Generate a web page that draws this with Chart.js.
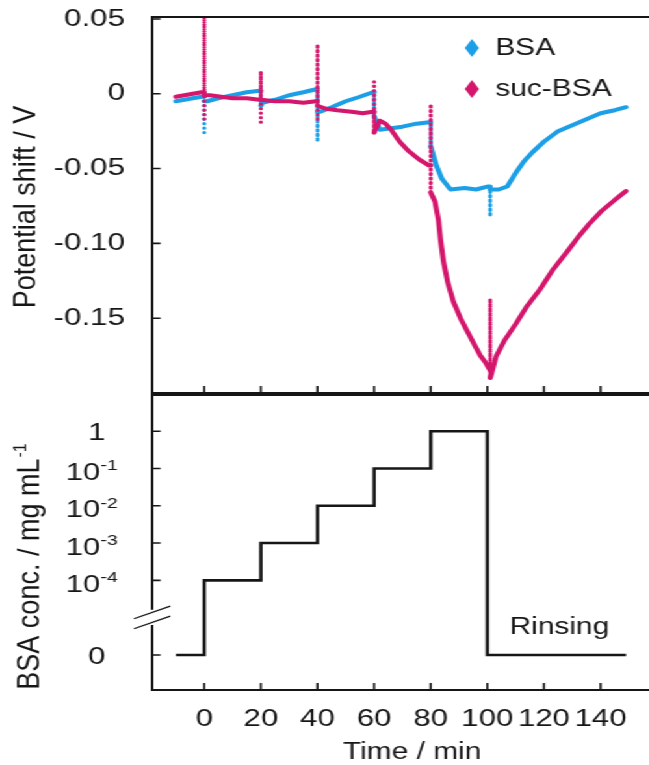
<!DOCTYPE html>
<html>
<head>
<meta charset="utf-8">
<script src="https://cdn.jsdelivr.net/npm/chart.js@4.4.1/dist/chart.umd.min.js"></script>
<style>
  html, body { margin: 0; padding: 0; background: #fff; overflow: hidden; }
  /* the original figure is stretched sideways, so the canvases are too */
  #stage { position: relative; width: 499px; height: 765px; transform: scaleX(1.3); transform-origin: 0 0; }
  #top { position: absolute; left: 0; top: 0; }
  #bottom { position: absolute; left: 0; top: 390px; }
</style>
</head>
<body>
<div id="stage">
  <canvas id="top" width="499" height="400"></canvas>
  <canvas id="bottom" width="499" height="375"></canvas>
</div>
<script>
const FONT = "'Liberation Sans', Arial, Helvetica, sans-serif";
const INK = '#161616';

// x axis (shared)
const timeTicks = [0, 20, 40, 60, 80, 100, 120, 140];

// top panel
const shiftTicks = [0.05, 0, -0.05, -0.10, -0.15];
const shiftTickLabels = ['0.05', '0', '-0.05', '-0.10', '-0.15'];

const bsaTime = [-10, -7, -4, -1, 0, 0, 0, 1, 5, 10, 15, 19.5, 20, 20, 20.5, 25, 30, 35, 39.5, 40, 40, 40, 41, 45, 50, 55, 59.5,
  60, 60, 62, 66, 70, 75, 79.5, 80, 80, 82, 84, 87, 92, 96, 100, 101, 101, 101, 104, 107, 110, 113, 116, 120, 125, 130,
  135, 140, 145, 149];
const bsaShift = [-0.005, -0.004, -0.003, -0.002, -0.002, -0.026, -0.005, -0.005, -0.003, -0.001, 0.001, 0.002, 0.002, -0.008,
  -0.006, -0.004, -0.001, 0.001, 0.003, 0.003, -0.032, -0.012, -0.012, -0.009, -0.005, -0.002, 0.001,
  0.001, -0.015, -0.024, -0.023, -0.022, -0.020, -0.019, -0.019, -0.035, -0.048, -0.057, -0.064, -0.063, -0.064, -0.062,
  -0.062, -0.082, -0.064, -0.064, -0.062, -0.053, -0.045, -0.039, -0.032, -0.025, -0.021, -0.017, -0.013, -0.011, -0.009];

const sucTime = [-10, -7, -4, -1, 0, 0, 0, 0, 2, 6, 10, 15, 19.5, 20, 20, 20, 20, 25, 30, 35, 39.5, 40, 40, 40, 40, 43, 47,
  52, 56, 59.5, 60, 60, 60, 62, 64, 66, 69, 72, 76, 79.5, 80, 80, 80, 81.5, 82.7, 83.5, 84.5, 86, 88, 90.5, 93, 95.5,
  97.5, 99.5, 101, 101, 101, 101.5, 103, 106, 110, 114, 118.5, 123, 128, 132, 136, 140, 145, 149];
const sucShift = [-0.002, -0.001, 0.000, 0.001, 0.001, 0.056, -0.017, -0.001, -0.001, -0.002, -0.003, -0.003, -0.004, -0.004,
  0.015, -0.019, -0.004, -0.005, -0.005, -0.006, -0.005, -0.005, 0.033, -0.017, -0.008, -0.010, -0.011,
  -0.012, -0.013, -0.012, -0.012, 0.008, -0.026, -0.018, -0.020, -0.024, -0.032, -0.038, -0.044, -0.048, -0.048, -0.007,
  -0.066, -0.072, -0.084, -0.098, -0.112, -0.126, -0.139, -0.150, -0.159, -0.168, -0.175, -0.180, -0.185, -0.137,
  -0.190, -0.187, -0.176, -0.165, -0.154, -0.142, -0.131, -0.118, -0.106, -0.096, -0.087, -0.079, -0.071, -0.065];

// bottom panel
const concTime = [-10, 0, 20, 40, 60, 80, 100, 149];
const concValue = [0, 1e-4, 1e-3, 1e-2, 1e-1, 1, 0, 0];
const concTicks = [0, 1e-4, 1e-3, 1e-2, 1e-1, 1];
const concTickBase = ['0', '10', '10', '10', '10', '1'];
const concTickExp = ['', '-4', '-3', '-2', '-1', ''];

// broken axis: 0 sits two decades under 1e-4
const concLevel = v => v === 0 ? 0 : 6 + Math.log10(v);

const pts = (xs, ys) => xs.map((x, i) => ({ x: x, y: ys[i] }));

Chart.defaults.font.family = FONT;
Chart.defaults.color = INK;

// spikes at injection times are thin dotted lines
const isSpike = c => c.p0.parsed.x === c.p1.parsed.x;
const spikeSegment = {
  borderDash: c => isSpike(c) ? [0, 4.5] : undefined,
  borderWidth: c => isSpike(c) ? 3.2 : undefined
};

// keep the plot box where it is, labels may hang outside
const noPad = s => { s.paddingTop = 0; s.paddingBottom = 0; s.paddingLeft = 0; s.paddingRight = 0; };

function drawVTitle(ctx, cx, cy, text, sup, size) {
  ctx.save();
  ctx.translate(cx, cy);
  ctx.scale(1 / 1.12, 1);
  ctx.rotate(-Math.PI / 2);
  ctx.fillStyle = INK;
  ctx.textBaseline = 'middle';
  ctx.font = `${size}px ${FONT}`;
  const w = ctx.measureText(text).width;
  let sw = 0;
  const supFont = `${Math.round(size * 0.6)}px ${FONT}`;
  if (sup) { ctx.font = supFont; sw = ctx.measureText(sup).width; }
  const x0 = -(w + sw) / 2;
  ctx.font = `${size}px ${FONT}`;
  ctx.fillText(text, x0, 0);
  if (sup) { ctx.font = supFont; ctx.fillText(sup, x0 + w + 1, -size * 0.3); }
  ctx.restore();
}

function drawFrame(chart, yTicks, gap) {
  const { ctx, chartArea: a, scales } = chart;
  ctx.save();
  ctx.strokeStyle = INK;
  ctx.lineWidth = 2;
  ctx.lineCap = 'butt';
  ctx.beginPath();
  ctx.moveTo(a.right + 2, a.top);
  ctx.lineTo(a.left, a.top);
  if (gap) {
    const g1 = scales.y.getPixelForValue(gap[1]);
    const g0 = scales.y.getPixelForValue(gap[0]);
    ctx.lineTo(a.left, g1);
    ctx.moveTo(a.left, g0);
  }
  ctx.lineTo(a.left, a.bottom);
  ctx.lineTo(a.right + 2, a.bottom);
  ctx.stroke();

  ctx.lineWidth = 1.6;
  ctx.beginPath();
  timeTicks.forEach(t => {
    const x = scales.x.getPixelForValue(t);
    ctx.moveTo(x, a.bottom);
    ctx.lineTo(x, a.bottom - 7);
  });
  yTicks.forEach(v => {
    const y = scales.y.getPixelForValue(v);
    ctx.moveTo(a.left, y);
    ctx.lineTo(a.left + 6.5, y);
  });
  ctx.stroke();

  if (gap) {
    // the two slanted break marks
    const mid = scales.y.getPixelForValue((gap[0] + gap[1]) / 2);
    ctx.lineWidth = 1.3;
    ctx.beginPath();
    [-5, 5].forEach(off => {
      ctx.moveTo(a.left - 14, mid + off + 6.3);
      ctx.lineTo(a.left + 14, mid + off - 6.3);
    });
    ctx.stroke();
  }
  ctx.restore();
}

const topExtras = {
  id: 'topExtras',
  afterDraw(chart) {
    const ctx = chart.ctx;
    drawFrame(chart, shiftTicks, null);
    drawVTitle(ctx, 20, 207, 'Potential shift / V', '', 27);
    // legend
    chart.data.datasets.forEach((ds, i) => {
      const x = 363, y = 48 + i * 41;
      ctx.fillStyle = ds.borderColor;
      ctx.beginPath();
      ctx.moveTo(x, y - 9);
      ctx.lineTo(x + 5.5, y);
      ctx.lineTo(x, y + 9);
      ctx.lineTo(x - 5.5, y);
      ctx.closePath();
      ctx.fill();
      ctx.fillStyle = INK;
      ctx.font = `23px ${FONT}`;
      ctx.textBaseline = 'middle';
      ctx.textAlign = 'left';
      ctx.fillText(ds.label, x + 18, y + 1);
    });
  }
};

const bottomExtras = {
  id: 'bottomExtras',
  afterDraw(chart) {
    const { ctx, scales } = chart;
    drawFrame(chart, concTicks.map(concLevel), [0.8, 1.21]);
    drawVTitle(ctx, 23, 177, 'BSA conc. / mg mL', '-1', 27);

    // concentration tick labels with exponents
    ctx.save();
    ctx.fillStyle = INK;
    concTicks.forEach((v, i) => {
      const y = scales.y.getPixelForValue(concLevel(v));
      const base = concTickBase[i], exp = concTickExp[i];
      ctx.font = `24px ${FONT}`;
      const bw = ctx.measureText(base).width;
      ctx.font = `15px ${FONT}`;
      const ew = exp ? ctx.measureText(exp).width : 0;
      const cx = exp ? 70.5 : 74.5;
      const x0 = cx - (bw + ew) / 2;
      ctx.textAlign = 'left';
      ctx.textBaseline = 'alphabetic';
      ctx.font = `24px ${FONT}`;
      ctx.fillText(base, x0, y + (exp ? 11.5 : 8.6));
      if (exp) {
        ctx.font = `15px ${FONT}`;
        ctx.fillText(exp, x0 + bw, y + 2);
      }
    });

    ctx.textBaseline = 'middle';
    ctx.font = `23px ${FONT}`;
    ctx.textAlign = 'center';
    ctx.fillText('Time / min', 317, 363);
    ctx.textAlign = 'left';
    ctx.fillText('Rinsing', 392, 238);
    ctx.restore();
  }
};

const hidden = { display: false, drawTicks: false };

new Chart(document.getElementById('top'), {
  type: 'line',
  data: {
    datasets: [
      {
        label: 'BSA',
        data: pts(bsaTime, bsaShift),
        borderColor: '#1c9fe6',
        borderWidth: 4,
        borderCapStyle: 'round',
        borderJoinStyle: 'round',
        pointRadius: 0,
        order: 1,
        segment: spikeSegment
      },
      {
        label: 'suc-BSA',
        data: pts(sucTime, sucShift),
        borderColor: '#d4166c',
        borderWidth: 4,
        borderCapStyle: 'round',
        borderJoinStyle: 'round',
        pointRadius: 0,
        order: 0,
        segment: spikeSegment
      }
    ]
  },
  options: {
    responsive: false,
    animation: false,
    layout: { padding: { top: 17, bottom: 7, left: 0, right: 0 } },
    plugins: { legend: { display: false }, tooltip: { enabled: false } },
    scales: {
      x: { type: 'linear', min: -18.4, max: 157, display: false },
      y: {
        type: 'linear', min: -0.2, max: 0.0513,
        afterBuildTicks: s => { s.ticks = shiftTicks.map(v => ({ value: v })); },
        afterFit: s => { s.width = 117; noPad(s); },
        grid: hidden,
        border: { display: false },
        ticks: {
          padding: 21,
          font: { size: 24 },
          callback: v => shiftTickLabels[shiftTicks.indexOf(v)]
        }
      }
    }
  },
  plugins: [topExtras]
});

new Chart(document.getElementById('bottom'), {
  type: 'line',
  data: {
    datasets: [{
      label: 'BSA conc.',
      data: pts(concTime, concValue.map(concLevel)),
      borderColor: INK,
      borderWidth: 2.6,
      stepped: true,
      pointRadius: 0
    }]
  },
  options: {
    responsive: false,
    animation: false,
    layout: { padding: { top: 5, bottom: 0, left: 0, right: 0 } },
    plugins: { legend: { display: false }, tooltip: { enabled: false } },
    scales: {
      x: {
        type: 'linear', min: -18.4, max: 157,
        afterBuildTicks: s => { s.ticks = timeTicks.map(v => ({ value: v })); },
        afterFit: s => { s.height = 75; noPad(s); },
        grid: hidden,
        border: { display: false },
        ticks: { padding: 15, font: { size: 24 }, autoSkip: false, maxRotation: 0, callback: v => String(v) }
      },
      y: {
        type: 'linear', min: -0.94, max: 6.97,
        afterFit: s => { s.width = 117; noPad(s); },
        grid: hidden,
        border: { display: false },
        ticks: { display: false }
      }
    }
  },
  plugins: [bottomExtras]
});
</script>
</body>
</html>
